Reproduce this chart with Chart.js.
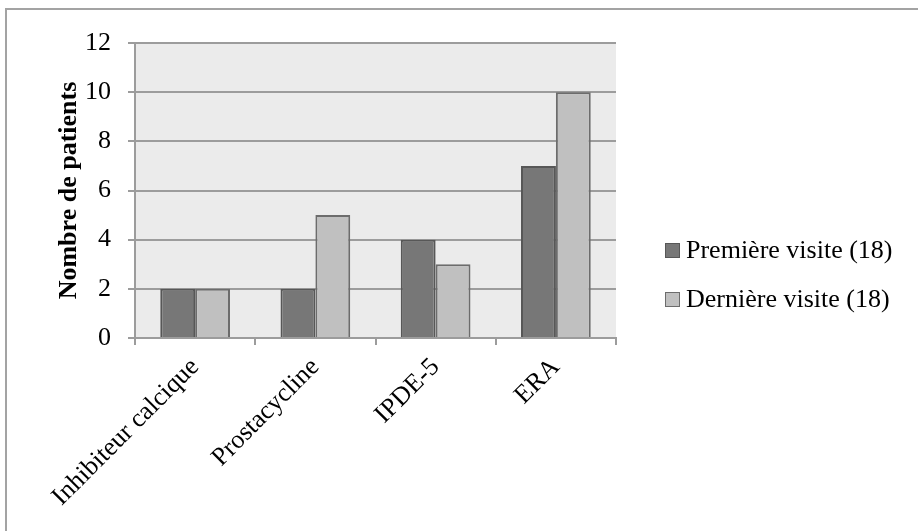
<!DOCTYPE html>
<html>
<head>
<meta charset="utf-8">
<script src="https://cdn.jsdelivr.net/npm/chart.js@4/dist/chart.umd.min.js"></script>
<style>
  html, body { margin: 0; padding: 0; background: #fff; }
  #wrap { position: relative; width: 918px; height: 531px; overflow: hidden; font-family: 'Liberation Serif', 'Times New Roman', serif; }
  #frame { position: absolute; left: 5px; top: 8px; width: 940px; height: 560px; border-top: 2px solid #a3a3a3; border-left: 2px solid #a3a3a3; box-sizing: border-box; }
  canvas { position: absolute; left: 0; top: 0; }
  #legend { position: absolute; left: 665px; top: 235px; }
  .item { position: absolute; left: 0; white-space: nowrap; font-size: 26px; color: #000; line-height: 30px; }
  .swatch { position: absolute; left: 0; top: 8px; width: 15px; height: 15px; box-sizing: border-box; border: 1px solid #555; }
  .label { position: absolute; left: 21px; top: 0; }
</style>
</head>
<body>
<div id="wrap">
  <div id="frame"></div>
  <canvas id="chart" width="918" height="531"></canvas>
  <div id="legend"></div>
</div>
<script>
// Treatment classes and patient counts at the first and last visit
const categories = ['Inhibiteur calcique', 'Prostacycline', 'IPDE-5', 'ERA'];
const premiereVisite = [2, 2, 4, 7];
const derniereVisite = [2, 5, 3, 10];
const seriesNames = ['Première visite (18)', 'Dernière visite (18)'];
const yTicks = [0, 2, 4, 6, 8, 10, 12];

const fillColors = ['#777777', '#c0c0c0'];
const edgeColors = ['#575757', '#6c6c6c'];
const FONT = "'Liberation Serif', 'Times New Roman', serif";

// grey plotting area behind the bars
const plotBackground = {
  id: 'plotBackground',
  beforeDraw(chart) {
    const { ctx, chartArea: a } = chart;
    ctx.save();
    ctx.fillStyle = '#ebebeb';
    ctx.fillRect(a.left, a.top, a.right - a.left, a.bottom - a.top);
    ctx.restore();
  }
};

const chart = new Chart(document.getElementById('chart'), {
  type: 'bar',
  data: {
    labels: categories,
    datasets: [
      { label: seriesNames[0], data: premiereVisite, backgroundColor: fillColors[0], borderColor: edgeColors[0], borderWidth: 2 },
      { label: seriesNames[1], data: derniereVisite, backgroundColor: fillColors[1], borderColor: edgeColors[1], borderWidth: 2 }
    ]
  },
  options: {
    responsive: false,
    animation: false,
    devicePixelRatio: 1,
    layout: { padding: { top: 43, right: 302, bottom: 0, left: 0 } },
    datasets: { bar: { categoryPercentage: 0.58, barPercentage: 1.0 } },
    plugins: { legend: { display: false }, tooltip: { enabled: false } },
    scales: {
      x: {
        grid: { offset: true, drawOnChartArea: false, drawTicks: true, tickLength: 7, color: '#9c9c9c', lineWidth: 2 },
        border: { color: '#9c9c9c', width: 2 },
        ticks: { minRotation: 45, maxRotation: 45, padding: 7, color: '#000', font: { family: FONT, size: 26 } },
        afterFit(scale) { scale.height = 193; }
      },
      y: {
        min: 0, max: 12,
        afterBuildTicks(scale) { scale.ticks = yTicks.map(v => ({ value: v })); },
        grid: { color: '#9c9c9c', lineWidth: 2, tickLength: 7 },
        border: { color: '#9c9c9c', width: 2 },
        ticks: { padding: 17, color: '#000', font: { family: FONT, size: 26 } },
        title: { display: true, text: 'Nombre de patients', color: '#000', font: { family: FONT, size: 26, weight: 'bold' }, padding: { top: 54, bottom: 0 } },
        afterFit(scale) { scale.width = 135; }
      }
    }
  },
  plugins: [plotBackground]
});

// legend built from the chart's own datasets
const legend = document.getElementById('legend');
chart.data.datasets.forEach((ds, i) => {
  const item = document.createElement('div');
  item.className = 'item';
  item.style.top = (i * 49) + 'px';
  const sw = document.createElement('span');
  sw.className = 'swatch';
  sw.style.background = ds.backgroundColor;
  sw.style.borderColor = ds.borderColor;
  const tx = document.createElement('span');
  tx.className = 'label';
  tx.textContent = ds.label;
  item.appendChild(sw);
  item.appendChild(tx);
  legend.appendChild(item);
});
</script>
</body>
</html>
